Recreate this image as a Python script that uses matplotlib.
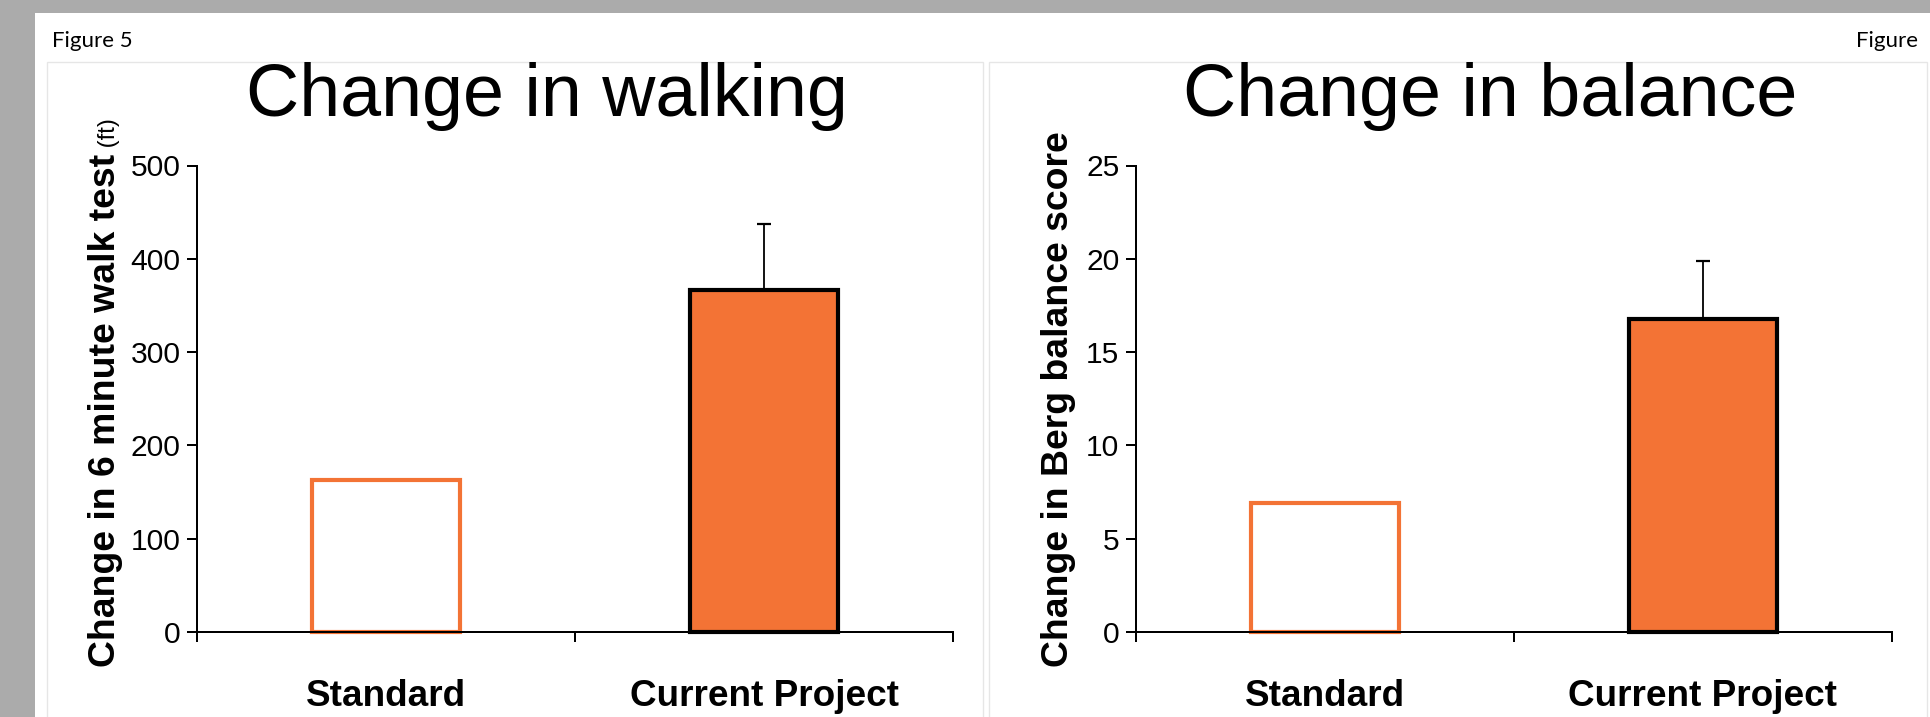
import matplotlib
matplotlib.use("Agg")
import matplotlib.pyplot as plt
from matplotlib.patches import Rectangle

# data
groups = ["Standard", "Current Project"]
walk_mean = [163, 367]
walk_err = [0, 70]
balance_mean = [6.9, 16.8]
balance_err = [0, 3.1]

orange = "#f37335"
fills = ["white", orange]
edges = [orange, "black"]

plt.rcParams["font.family"] = ["Liberation Sans", "DejaVu Sans"]

W, H = 1930, 717
fig = plt.figure(figsize=(W / 100, H / 100), dpi=100, facecolor="#ababab")

def fx(px):
    return px / W

def fy(py):
    # pixel row from top -> figure fraction
    return (H - py) / H

# white page and the two faint panel frames
fig.add_artist(Rectangle((fx(35), 0), 1, fy(13), transform=fig.transFigure,
                         facecolor="white", edgecolor="none", zorder=-10))
for x0, x1 in [(47, 983), (989, 1927)]:
    fig.add_artist(Rectangle((fx(x0), -0.1), fx(x1 - x0), fy(62) + 0.1,
                             transform=fig.transFigure, facecolor="none",
                             edgecolor="#e6e6e6", linewidth=1, zorder=-5))

fig.text(fx(52), fy(47), "Figure 5", family="Lato", fontsize=16, va="baseline")
fig.text(fx(1918), fy(47), "Figure", family="Lato", fontsize=16, va="baseline", ha="right")


def panel(left_px, means, errs, ymax, ystep, title, title_x, ylabel, ylab_x):
    ax = fig.add_axes([fx(left_px), fy(632), fx(756), (632 - 165.5) / H])
    ax.set_facecolor("none")
    xs = [0.5, 1.5]
    ax.bar(xs, means, width=0.39, color=fills, edgecolor=edges, linewidth=3,
           clip_on=False, zorder=2)
    for x, m, e in zip(xs, means, errs):
        if e > 0:
            ax.errorbar(x, m, yerr=[[0], [e]], fmt="none", ecolor="black",
                        elinewidth=1.3, capsize=5, capthick=1.6, zorder=1)
    ax.set_xlim(0, 2)
    ax.set_ylim(0, ymax)
    ax.set_yticks(range(0, ymax + 1, ystep))
    ax.set_xticks([0, 1, 2])
    ax.set_xticklabels([])
    ax.set_xticks(xs, labels=groups, minor=True)
    for s in ["top", "right"]:
        ax.spines[s].set_visible(False)
    for s in ["left", "bottom"]:
        ax.spines[s].set_linewidth(1.44)
    ax.tick_params(axis="both", which="major", direction="out", length=7,
                   width=1.44, labelsize=21.6, pad=5)
    ax.tick_params(axis="x", which="minor", length=0, pad=34, labelsize=26.6)
    for lab in ax.get_xticklabels(minor=True):
        lab.set_fontweight("bold")
    fig.text(fx(title_x), fy(116), title, fontsize=53, ha="center", va="baseline")
    yl = fig.text(fx(ylab_x), fy(667), ylabel, rotation=90, ha="center",
                  va="bottom", fontsize=26.9, fontweight="bold")
    return ax, yl


ax1, yl1 = panel(197, walk_mean, walk_err, 500, 100, "Change in walking", 547,
                 "Change in 6 minute walk test", 106)
ax1.annotate(" (ft)", xy=(1, 1), xycoords=yl1, xytext=(-2.5, 0),
             textcoords="offset points", rotation=90, ha="right", va="bottom",
             fontsize=17, annotation_clip=False)

ax2, yl2 = panel(1136, balance_mean, balance_err, 25, 5, "Change in balance", 1490,
                 "Change in Berg balance score", 1059)

plt.savefig("out.png", dpi=100, facecolor=fig.get_facecolor())
